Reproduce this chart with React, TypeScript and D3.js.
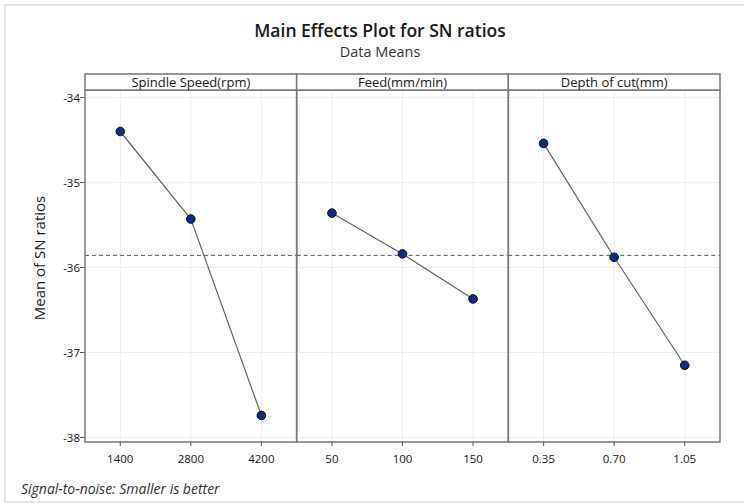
import React from "react";
import * as d3 from "d3";

const factors = ["Spindle Speed(rpm)", "Feed(mm/min)", "Depth of cut(mm)"];
const levelLabels = [
  ["1400", "2800", "4200"],
  ["50", "100", "150"],
  ["0.35", "0.70", "1.05"],
];
const spindleMeans = [-34.4, -35.43, -37.74];
const feedMeans = [-35.36, -35.84, -36.37];
const depthMeans = [-34.54, -35.88, -37.15];
const seriesValues = [spindleMeans, feedMeans, depthMeans];
const yTicks = [-34, -35, -36, -37, -38];
const grandMean = -35.857;

const W = 744;
const H = 504;
const plotLeft = 85;
const plotRight = 720;
const stripTop = 74;
const plotTop = 90;
const plotBottom = 442;
const font = "'Open Sans', 'Noto Sans', sans-serif";

export default function App() {
  const y = d3.scaleLinear().domain([-34, -38]).range([97.5, 437.5]);
  const panel = d3
    .scaleBand<number>()
    .domain([0, 1, 2])
    .range([plotLeft, plotRight])
    .paddingInner(0);
  const pw = panel.bandwidth();
  const line = d3.line<[number, number]>().x((d) => d[0]).y((d) => d[1]);

  return (
    <svg
      width={W}
      height={H}
      style={{ position: "absolute", left: 0, top: 0, background: "#fff" }}
      fontFamily={font}
    >
      <rect x={5} y={5} width={W + 10} height={H - 7} fill="#fff" stroke="#dcdcdc" strokeWidth={1.5} />
      <text x={380} y={37} textAnchor="middle" fontSize={17.5} fontWeight={600} fill="#1a1a1a">
        Main Effects Plot for SN ratios
      </text>
      <text x={380} y={57} textAnchor="middle" fontSize={14.5} fill="#333">
        Data Means
      </text>
      <text
        transform={`translate(45,258) rotate(-90)`}
        textAnchor="middle"
        fontSize={15}
        fontWeight={500}
        fill="#1a1a1a"
      >
        Mean of SN ratios
      </text>
      <text x={21} y={494} fontSize={14} fontStyle="italic" fill="#333">
        Signal-to-noise: Smaller is better
      </text>

      {/* y axis ticks */}
      {yTicks.map((t) => (
        <g key={t}>
          <line x1={plotLeft - 5} x2={plotLeft} y1={y(t)} y2={y(t)} stroke="#555" />
          <text x={plotLeft - 5} y={y(t) + 4} textAnchor="end" fontSize={11.5} fill="#1a1a1a">
            {t}
          </text>
        </g>
      ))}

      {factors.map((f, i) => {
        const x0 = panel(i)!;
        const x = d3
          .scalePoint<string>()
          .domain(levelLabels[i])
          .range([x0, x0 + pw])
          .padding(0.5);
        const pts: [number, number][] = seriesValues[i].map((v, j) => [x(levelLabels[i][j])!, y(v)]);
        return (
          <g key={f}>
            {/* grid */}
            {yTicks.map((t) => (
              <line key={t} x1={x0} x2={x0 + pw} y1={y(t)} y2={y(t)} stroke="#eeeeee" />
            ))}
            {levelLabels[i].map((l) => (
              <line key={l} x1={x(l)} x2={x(l)} y1={plotTop} y2={plotBottom} stroke="#eeeeee" />
            ))}
            {/* mean line */}
            <line
              x1={x0}
              x2={x0 + pw}
              y1={y(grandMean)}
              y2={y(grandMean)}
              stroke="#555"
              strokeDasharray="4,3"
            />
            <path d={line(pts)!} fill="none" stroke="#666" strokeWidth={1.2} />
            {pts.map((p, j) => (
              <circle key={j} cx={p[0]} cy={p[1]} r={4.3} fill="#0a2d85" stroke="#111" strokeWidth={1} />
            ))}
            {/* panel border */}
            <rect x={x0} y={plotTop} width={pw} height={plotBottom - plotTop} fill="none" stroke="#777" strokeWidth={1.5} />
            {/* strip */}
            <rect x={x0} y={stripTop} width={pw} height={plotTop - stripTop} fill="#fff" stroke="#777" strokeWidth={1.5} />
            <text x={x0 + pw / 2} y={stripTop + 13} textAnchor="middle" fontSize={13} fontWeight={500} fill="#1a1a1a">
              {f}
            </text>
            {/* x ticks */}
            {levelLabels[i].map((l) => (
              <g key={l}>
                <line x1={x(l)} x2={x(l)} y1={plotBottom} y2={plotBottom + 4} stroke="#555" />
                <text x={x(l)} y={463} textAnchor="middle" fontSize={11.5} fill="#1a1a1a">
                  {l}
                </text>
              </g>
            ))}
          </g>
        );
      })}
    </svg>
  );
}
